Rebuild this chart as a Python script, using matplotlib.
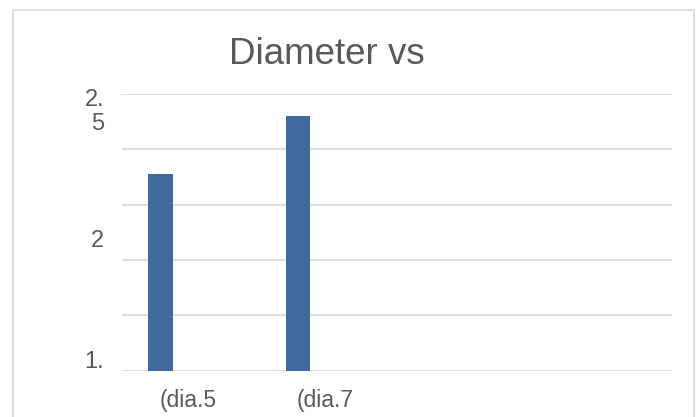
import numpy as np
import matplotlib
matplotlib.use("Agg")
import matplotlib.pyplot as plt
from matplotlib.patches import Rectangle
from matplotlib.transforms import ScaledTranslation, blended_transform_factory

plt.rcParams['font.family'] = ['Liberation Sans', 'DejaVu Sans']

title = "Diameter vs"
categories = ["(dia.5", "(dia.7", "", ""]
values = [2.21, 2.42, np.nan, np.nan]
y_min, y_max, y_step = 1.5, 2.5, 0.2
# (tick value, text line, baseline offset in px)
y_label_values = [2.5, 2.5, 2.0, 1.5]
y_label_texts = ["2.", "5", "2", "1."]
y_label_dy = [-11.7, -35.7, -14.5, 2.7]

W, H = 697, 417
fig = plt.figure(figsize=(W / 100, H / 100), dpi=100)
ax = fig.add_axes([122 / W, (H - 370.7) / H, 550 / W, 276.7 / H])

x = np.arange(len(categories))
ax.bar(x - 0.22, values, width=0.175, color='#41699C', zorder=3)

ax.set_xlim(-0.5, len(categories) - 0.5)
ax.set_ylim(y_min, y_max)
ax.set_yticks(np.arange(y_min, y_max + 1e-9, y_step))
ax.set_yticklabels([])
ax.set_xticks([])
ax.grid(axis='y', color='#D9D9D9', linewidth=1.2, zorder=0)
ax.tick_params(left=False, bottom=False)
for s in ax.spines.values():
    s.set_visible(False)

# y labels
trans_y = blended_transform_factory(fig.transFigure, ax.transData)
for val, txt, dy in zip(y_label_values, y_label_texts, y_label_dy):
    ax.text(104 / W, val, txt,
            transform=trans_y + ScaledTranslation(0, dy / 100, fig.dpi_scale_trans),
            ha='right', va='baseline', fontsize=17, color='#595959')

# x labels
trans_x = blended_transform_factory(ax.transData, fig.transFigure)
for xi, lab in zip(x, categories):
    ax.text(xi, (H - 406.5) / H, lab,
            transform=trans_x + ScaledTranslation(-3 / 100, 0, fig.dpi_scale_trans),
            ha='center', va='baseline', fontsize=16.5, color='#595959')

fig.text(327 / W, (H - 63.5) / H, title, ha='center', va='baseline', fontsize=26.5, color='#595959')

fig.add_artist(Rectangle((12.5 / W, -0.1), (694 - 12.5) / W, (H - 10) / H + 0.1,
                         transform=fig.transFigure, fill=False, edgecolor='#D9D9D9', linewidth=1.2))

fig.savefig("out.png", dpi=100, facecolor='white')
